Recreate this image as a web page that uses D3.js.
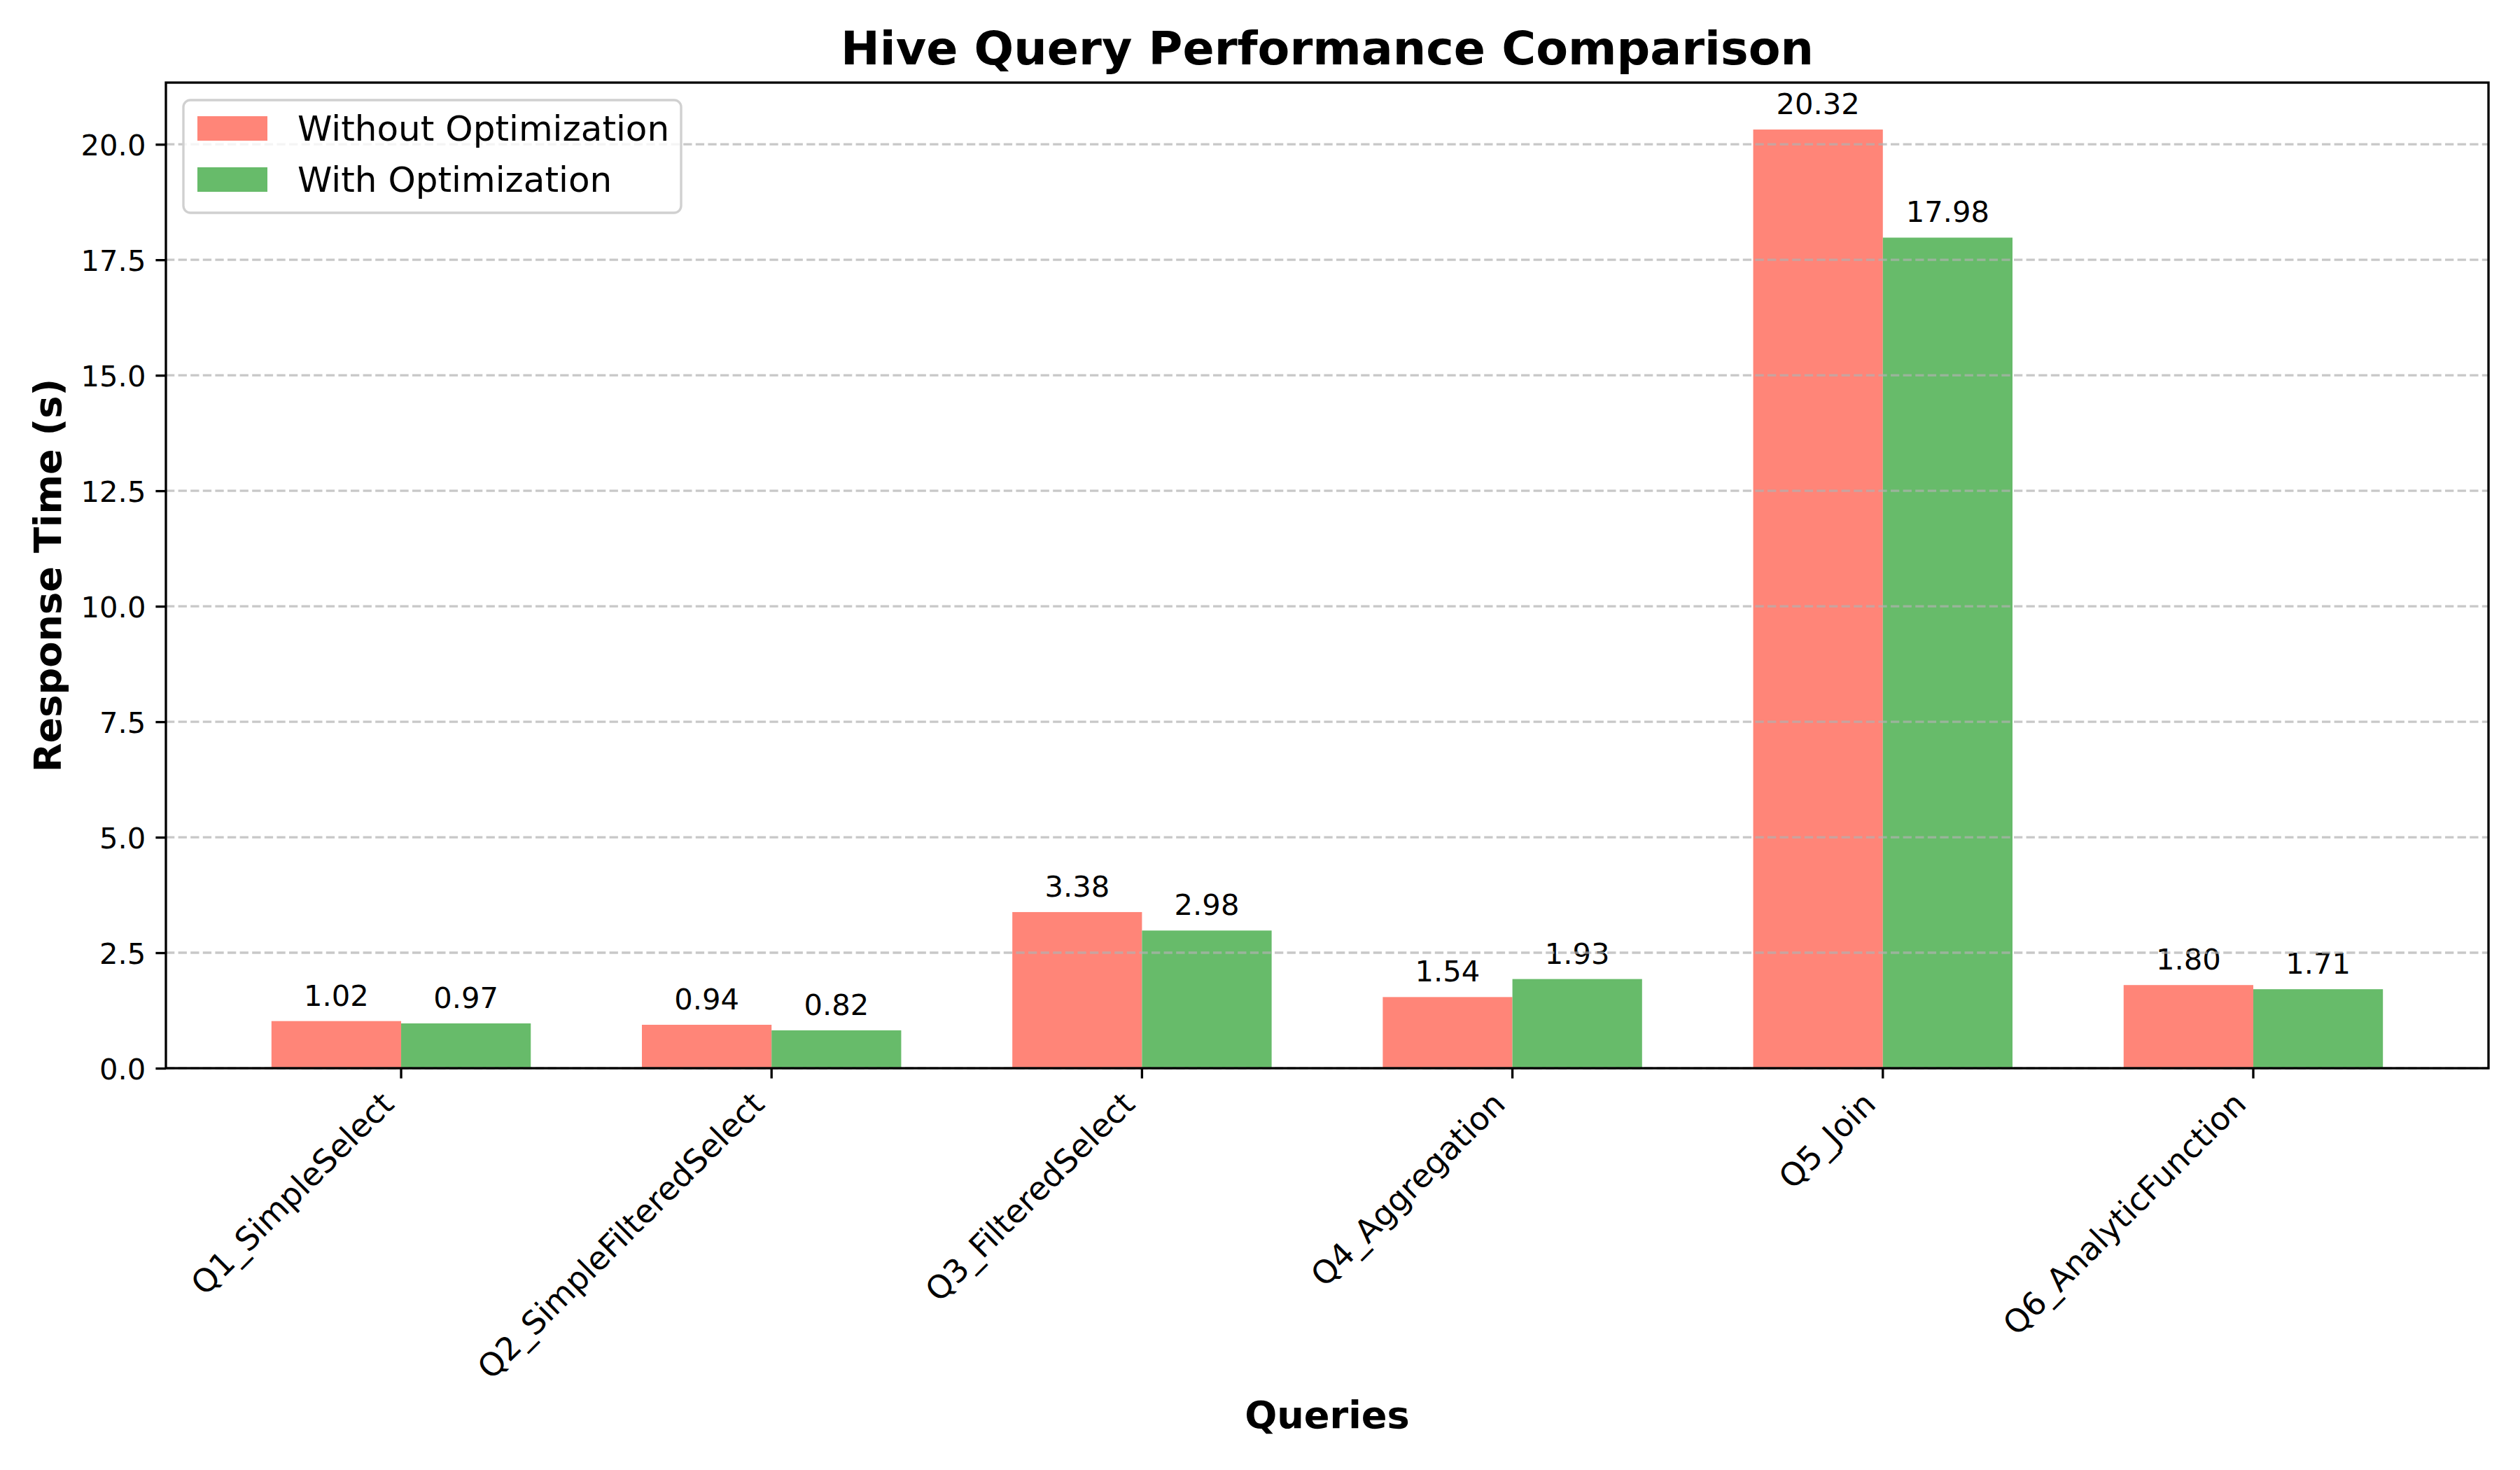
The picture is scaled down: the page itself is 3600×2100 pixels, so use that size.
<!DOCTYPE html>
<html>
<head>
<meta charset="utf-8">
<script src="https://cdn.jsdelivr.net/npm/d3@7"></script>
<style>
  body { margin: 0; background: #fff; }
  text { font-family: "DejaVu Sans", sans-serif; fill: #000; }
</style>
</head>
<body>
<div id="chart"></div>
<script>
// data
const queries = ['Q1_SimpleSelect', 'Q2_SimpleFilteredSelect', 'Q3_FilteredSelect',
  'Q4_Aggregation', 'Q5_Join', 'Q6_AnalyticFunction'];
const series = ['Without Optimization', 'With Optimization'];
const without_opt = [1.02, 0.94, 3.38, 1.54, 20.32, 1.80];
const with_opt = [0.97, 0.82, 2.98, 1.93, 17.98, 1.71];
const y_ticks = [0, 2.5, 5, 7.5, 10, 12.5, 15, 17.5, 20];
const colors = ['#ff8578', '#67bb6a'];

// canvas
const WIDTH = 3600;
const HEIGHT = 2100;
const LEFT = 237, RIGHT = 3555, TOP = 118, BOTTOM = 1526;
const TICK = 14.6;
const LW = 3.33;

const svg = d3.select('#chart').append('svg')
  .attr('width', WIDTH)
  .attr('height', HEIGHT);

const x = d3.scaleBand()
  .domain(queries)
  .range([LEFT, RIGHT])
  .paddingInner(0.3)
  .paddingOuter(0.285);

const xs = d3.scaleBand()
  .domain(series)
  .range([0, x.bandwidth()]);

const ymax = d3.max(without_opt.concat(with_opt)) * 1.05;
const y = d3.scaleLinear()
  .domain([0, ymax])
  .range([BOTTOM, TOP]);

const rows = queries.map((q, i) => ({ q: q, vals: [without_opt[i], with_opt[i]] }));

// bars
const groups = svg.append('g').selectAll('g')
  .data(rows).join('g')
  .attr('transform', d => 'translate(' + x(d.q) + ',0)');

groups.selectAll('rect')
  .data(d => d.vals.map((v, k) => ({ s: series[k], v: v, k: k })))
  .join('rect')
  .attr('x', d => xs(d.s))
  .attr('width', xs.bandwidth())
  .attr('y', d => y(d.v))
  .attr('height', d => y(0) - y(d.v))
  .attr('fill', d => colors[d.k]);

// value labels
groups.selectAll('text')
  .data(d => d.vals.map((v, k) => ({ s: series[k], v: v })))
  .join('text')
  .attr('x', d => xs(d.s) + xs.bandwidth() / 2)
  .attr('y', d => y(d.v) - 22)
  .attr('text-anchor', 'middle')
  .attr('font-size', 41.7)
  .text(d => d.v.toFixed(2));

// grid, drawn over the bars like the reference
svg.append('g').selectAll('line')
  .data(y_ticks).join('line')
  .attr('x1', LEFT).attr('x2', RIGHT)
  .attr('y1', d => y(d)).attr('y2', d => y(d))
  .attr('stroke', '#b0b0b0')
  .attr('stroke-opacity', 0.7)
  .attr('stroke-width', LW)
  .attr('stroke-dasharray', '12.3,5.3');

// y axis
const yAxis = svg.append('g')
  .attr('transform', 'translate(' + LEFT + ',0)')
  .call(d3.axisLeft(y).tickValues(y_ticks).tickFormat(d3.format('.1f'))
    .tickSize(TICK).tickPadding(14));
yAxis.select('.domain').remove();
yAxis.selectAll('line').attr('stroke-width', LW);
yAxis.selectAll('text').attr('font-size', 41.7).attr('dy', '0.36em')
  .style('font-family', '"DejaVu Sans", sans-serif');

// x axis, labels rotated 45deg and right aligned on the tick
const XFONT = 45.8;
const xAxis = svg.append('g')
  .attr('transform', 'translate(0,' + BOTTOM + ')')
  .call(d3.axisBottom(x).tickSize(TICK).tickPadding(0));
xAxis.select('.domain').remove();
xAxis.selectAll('line').attr('stroke-width', LW);
xAxis.selectAll('text')
  .attr('font-size', XFONT)
  .style('font-family', '"DejaVu Sans", sans-serif')
  .attr('text-anchor', 'end')
  .attr('dy', 0)
  .attr('y', 0)
  .attr('transform', 'translate(' + (-0.17 * XFONT) + ',' + (TICK + 14.6 + 0.54 * XFONT) + ') rotate(-45)');

// frame
svg.append('rect')
  .attr('x', LEFT).attr('y', TOP)
  .attr('width', RIGHT - LEFT).attr('height', BOTTOM - TOP)
  .attr('fill', 'none')
  .attr('stroke', '#000')
  .attr('stroke-width', LW);

// titles
svg.append('text')
  .attr('x', (LEFT + RIGHT) / 2).attr('y', 92)
  .attr('text-anchor', 'middle')
  .attr('font-size', 66.7)
  .attr('font-weight', 'bold')
  .text('Hive Query Performance Comparison');

svg.append('text')
  .attr('x', (LEFT + RIGHT) / 2).attr('y', 2040)
  .attr('text-anchor', 'middle')
  .attr('font-size', 54.2)
  .attr('font-weight', 'bold')
  .text('Queries');

svg.append('text')
  .attr('transform', 'translate(87,' + (TOP + BOTTOM) / 2 + ') rotate(-90)')
  .attr('text-anchor', 'middle')
  .attr('font-size', 54.2)
  .attr('font-weight', 'bold')
  .text('Response Time (s)');

// legend
const legend = svg.append('g').attr('transform', 'translate(262,143)');
legend.append('rect')
  .attr('width', 711).attr('height', 161)
  .attr('rx', 10)
  .attr('fill', '#fff').attr('fill-opacity', 0.8)
  .attr('stroke', '#d0d0d0').attr('stroke-width', LW);
const items = legend.selectAll('g.item')
  .data(series).join('g')
  .attr('class', 'item')
  .attr('transform', (d, i) => 'translate(0,' + (23 + i * 73) + ')');
items.append('rect')
  .attr('x', 20).attr('width', 100).attr('height', 35)
  .attr('fill', (d, i) => colors[i]);
items.append('text')
  .attr('x', 163).attr('y', 35)
  .attr('font-size', 50)
  .text(d => d);
</script>
</body>
</html>
